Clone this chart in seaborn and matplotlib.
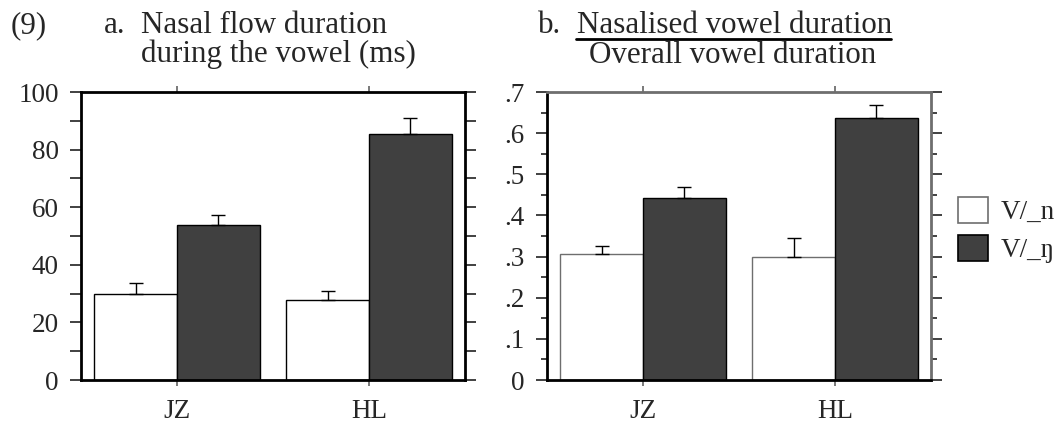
import matplotlib
matplotlib.use("Agg")
import matplotlib.pyplot as plt
import seaborn as sns
import pandas as pd
import numpy as np
from matplotlib.patches import Patch
from matplotlib.lines import Line2D
from matplotlib.ticker import MultipleLocator, FuncFormatter

speakers = ["JZ", "HL"]
contexts = ["V/_n", "V/_ŋ"]

# a. nasal flow duration during the vowel (ms)
flow_n = [29.8, 27.8]
flow_ng = [53.8, 85.3]
flow_err_n = [3.8, 3.0]
flow_err_ng = [3.5, 5.6]

# b. nasalised / overall vowel duration
ratio_n = [0.306, 0.299]
ratio_ng = [0.442, 0.636]
ratio_err_n = [0.019, 0.045]
ratio_err_ng = [0.026, 0.033]

sns.set_style("white")
plt.rcParams["font.family"] = ["Liberation Serif", "DejaVu Serif"]

white = "#ffffff"
dark = "#404040"
grey = "#6e6e6e"

fig = plt.figure(figsize=(10.55, 4.23), dpi=100)
W, H = 1055, 423
ax_a = fig.add_axes([81 / W, 1 - 380 / H, 384 / W, 288 / H])
ax_b = fig.add_axes([547 / W, 1 - 380 / H, 384 / W, 288 / H])

tick_fs = 19.5
ts = 22.3


def make_df(v_n, v_ng, e_n, e_ng):
    return pd.DataFrame({
        "speaker": speakers * 2,
        "context": [contexts[0]] * 2 + [contexts[1]] * 2,
        "value": v_n + v_ng,
        "err": e_n + e_ng,
    })


def draw_panel(ax, df, white_edge, ymax, major, minor, long_minor):
    sns.barplot(data=df, x="speaker", y="value", hue="context",
                order=speakers, hue_order=contexts, palette=[white, dark],
                width=0.86, errorbar=None, legend=False, saturation=1,
                edgecolor="black", linewidth=1.0, ax=ax)
    for bar in ax.containers[0]:
        bar.set_edgecolor(white_edge)
    # upward error bars only
    for cont, ctx in zip(ax.containers, contexts):
        sub = df[df["context"] == ctx].set_index("speaker").loc[speakers]
        xs = [p.get_x() + p.get_width() / 2 for p in cont]
        ax.errorbar(xs, sub["value"], yerr=[np.zeros(len(xs)), sub["err"]],
                    fmt="none", ecolor="black", elinewidth=1.0, capsize=5,
                    capthick=1.0, zorder=1)
    ax.set_xlim(-0.5, 1.5)
    ax.set_ylim(0, ymax)
    ax.set_xlabel("")
    ax.set_ylabel("")
    ax.yaxis.set_major_locator(MultipleLocator(major))
    ax.yaxis.set_minor_locator(MultipleLocator(minor))
    ax.tick_params(axis="y", which="major", direction="out", length=8,
                   width=1.3, color="#333333", left=True, right=True,
                   labelsize=tick_fs, pad=8)
    ax.tick_params(axis="y", which="minor", direction="out",
                   length=8 if long_minor else 4, width=1.3,
                   color="#333333", left=True, right=True)
    ax.tick_params(axis="x", direction="out", length=4, width=1.3,
                   color=grey, top=True, bottom=True, labelsize=tick_fs,
                   pad=10)
    for s in ax.spines.values():
        s.set_visible(True)
        s.set_linewidth(2)


draw_panel(ax_a, make_df(flow_n, flow_ng, flow_err_n, flow_err_ng),
           "black", 100, 20, 10, True)
for s in ax_a.spines.values():
    s.set_color("black")

draw_panel(ax_b, make_df(ratio_n, ratio_ng, ratio_err_n, ratio_err_ng),
           grey, 0.7, 0.1, 0.05, False)
ax_b.spines["left"].set_color("black")
ax_b.spines["bottom"].set_color("black")
ax_b.spines["top"].set_color(grey)
ax_b.spines["right"].set_color(grey)
ax_b.yaxis.set_major_formatter(
    FuncFormatter(lambda v, p: "0" if abs(v) < 1e-9 else f"{v:.1f}".lstrip("0")))

# titles
fig.text(11 / W, 1 - 33 / H, "(9)", fontsize=ts, va="baseline")
fig.text(104 / W, 1 - 33 / H, "a.", fontsize=ts, va="baseline")
fig.text(141 / W, 1 - 33 / H, "Nasal flow duration", fontsize=ts, va="baseline")
fig.text(141 / W, 1 - 62 / H, "during the vowel (ms)", fontsize=ts, va="baseline")
fig.text(538 / W, 1 - 33 / H, "b.", fontsize=ts, va="baseline")
fig.text(577 / W, 1 - 33 / H, "Nasalised vowel duration", fontsize=ts,
         va="baseline")
fig.text(733 / W, 1 - 63 / H, "Overall vowel duration", fontsize=ts,
         va="baseline", ha="center")
fig.add_artist(Line2D([576 / W, 891 / W], [1 - 39 / H, 1 - 39 / H],
                      transform=fig.transFigure, color="black", lw=2))

# legend
handles = [Patch(facecolor=white, edgecolor=grey, linewidth=1.2),
           Patch(facecolor=dark, edgecolor="black", linewidth=1.2)]
fig.legend(handles, contexts, loc="upper left",
           bbox_to_anchor=(958 / W, 1 - 197 / H), frameon=False,
           fontsize=tick_fs, handlelength=1.12, handleheight=1.12,
           handletextpad=0.45, labelspacing=0.35, borderpad=0,
           borderaxespad=0)

fig.savefig("out.png", dpi=100)
